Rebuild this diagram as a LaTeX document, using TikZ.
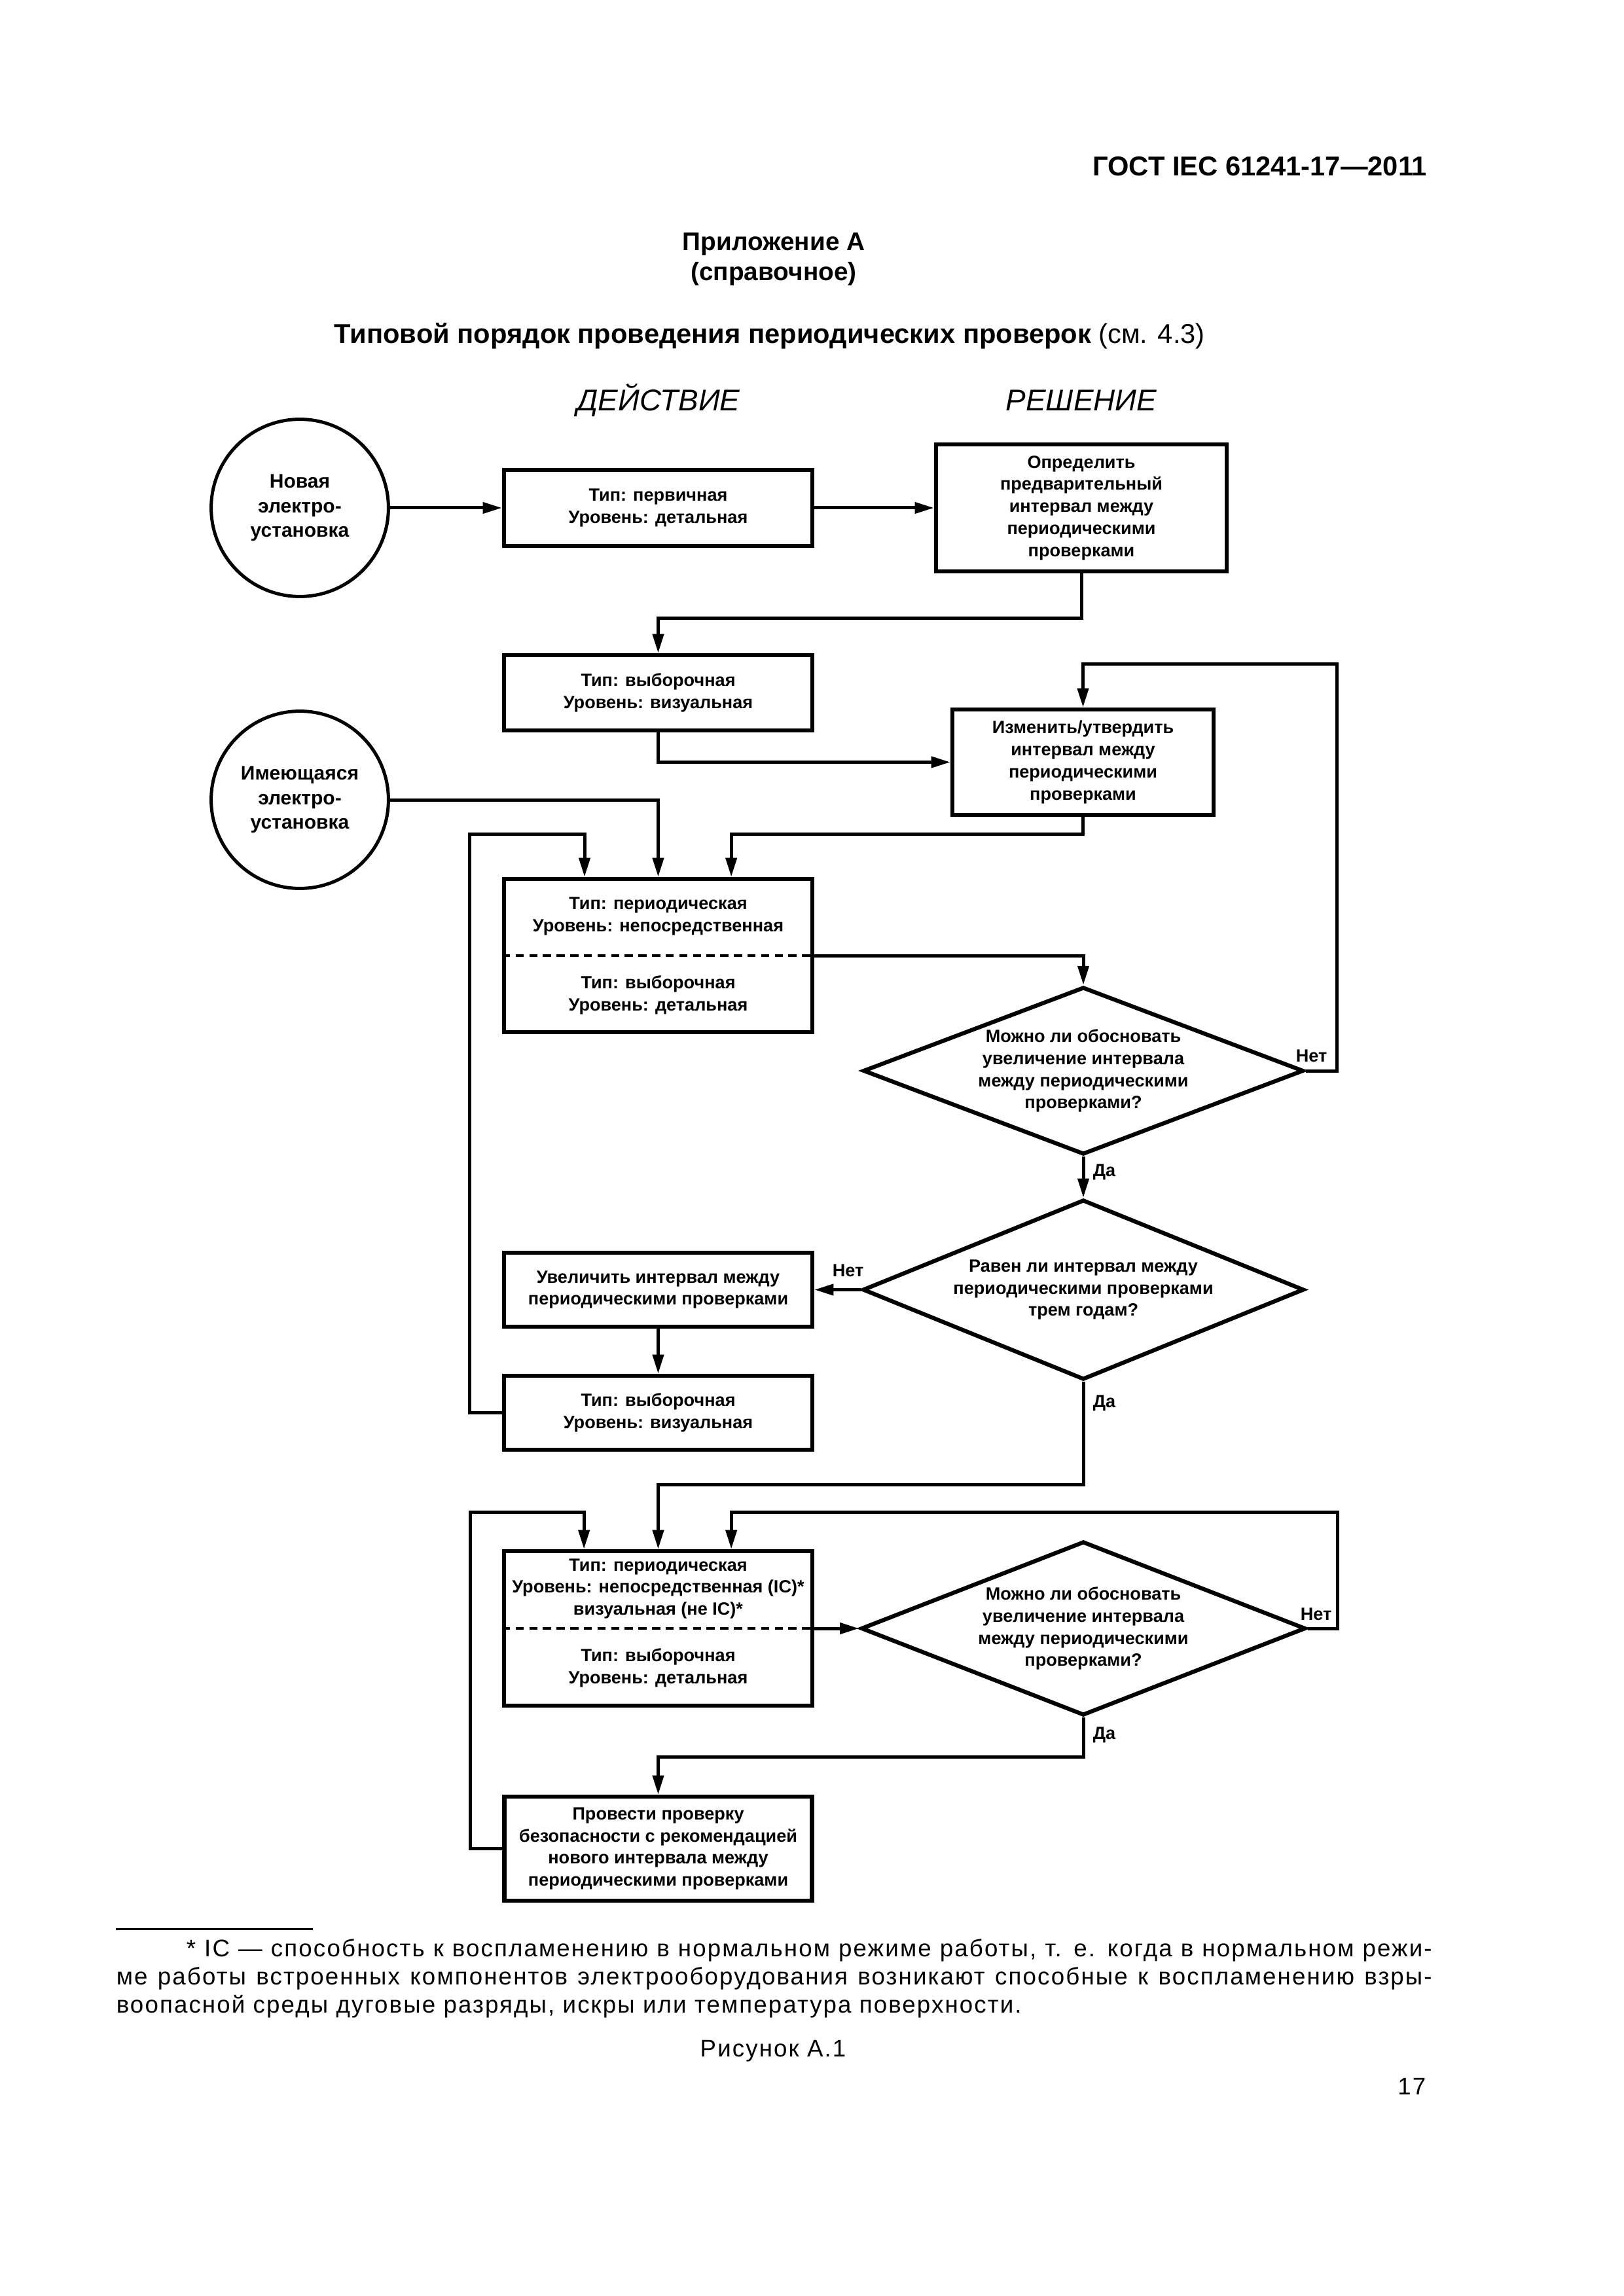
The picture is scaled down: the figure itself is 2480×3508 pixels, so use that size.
\documentclass[tikz,border=0pt]{standalone}
\usepackage{fontspec}
\setmainfont{Liberation Sans}
\newfontfamily\footfont[LetterSpace=5.8]{Liberation Sans}
\usetikzlibrary{arrows.meta,shapes.geometric,calc}
\newcommand\diagfont{\bfseries\fontsize{6.5}{8.1}\selectfont}
\newcommand\circfont{\bfseries\fontsize{7.2}{9}\selectfont}
\newcommand\notefont{\footfont\fontsize{8.8}{10.3}\selectfont}
\tikzset{
  box/.style={draw, line width=1.5pt, rectangle, inner sep=0pt, align=center, font=\diagfont},
  circ/.style={draw, line width=1.2pt, circle, minimum size=65pt, inner sep=0pt, align=center, font=\circfont},
  dia/.style={draw, line width=1.5pt, diamond, inner sep=0pt, align=center, font=\diagfont},
  conn/.style={line width=1.2pt, -{Triangle[length=7pt,width=4pt]}},
  lbl/.style={font=\diagfont, inner sep=0pt, anchor=base west},
  half/.style={inner sep=0pt, align=center, font=\diagfont},
  txt/.style={inner sep=0pt, anchor=base},
  divider/.style={line width=1pt, dash pattern=on 3pt off 2pt},
}
\begin{document}
\begin{tikzpicture}[x=0.24pt,y=-0.24pt]
\fill[white] (0,0) rectangle (2480,3508);
\useasboundingbox (0,0) rectangle (2480,3508);

% page texts
\node[txt, anchor=base east, font=\bfseries\fontsize{10}{12}\selectfont] (gost) at (2181,269) {ГОСТ IEC 61241-17—2011};
\node[txt, font=\bfseries\fontsize{9.3}{11}\selectfont] (app) at (1182,383) {Приложение А};
\node[txt, font=\bfseries\fontsize{9.3}{11}\selectfont] (ref) at (1182,429) {(справочное)};
\node[txt, anchor=base west, font=\fontsize{10}{12}\selectfont] (title) at (510,525) {\textbf{Типовой порядок проведения периодических проверок} (см. 4.3)};
\node[txt, font=\itshape\fontsize{11}{13}\selectfont] (hact) at (1006,628) {ДЕЙСТВИЕ};
\node[txt, font=\itshape\fontsize{11}{13}\selectfont] (hdec) at (1652,628) {РЕШЕНИЕ};

% nodes
\node[circ] (c1) at (458,776) {Новая\\электро-\\установка};
\node[box, minimum width=113.04pt, minimum height=27.84pt] (b1) at (1005.5,776) {Тип: первичная\\Уровень: детальная};
\node[box, minimum width=106.56pt, minimum height=46.56pt] (d0) at (1652,776) {Определить\\предварительный\\интервал между\\периодическими\\проверками};
\node[box, minimum width=113.04pt, minimum height=27.6pt] (b2) at (1005.5,1058.5) {Тип: выборочная\\Уровень: визуальная};
\node[box, minimum width=95.76pt, minimum height=38.64pt] (d1) at (1654.5,1164.5) {Изменить/утвердить\\интервал между\\периодическими\\проверками};
\node[circ] (c2) at (458,1222) {Имеющаяся\\электро-\\установка};

\node[box, minimum width=113.04pt, minimum height=56.16pt] (b3) at (1005.5,1460) {};
\draw[divider] (b3.west) -- (b3.east);
\node[half] (b3t) at ($(b3.north)!0.5!(b3.center)$) {Тип: периодическая\\Уровень: непосредственная};
\node[half] (b3b) at ($(b3.south)!0.5!(b3.center)$) {Тип: выборочная\\Уровень: детальная};

\node[dia, minimum width=161.5pt, minimum height=61.4pt, shape aspect=2.63] (q1) at (1655,1636) {Можно ли обосновать\\увеличение интервала\\между периодическими\\проверками?};
\node[dia, minimum width=161.8pt, minimum height=66pt, shape aspect=2.45] (q2) at (1655,1970.5) {Равен ли интервал между\\периодическими проверками\\трем годам?};
\node[box, minimum width=113.04pt, minimum height=27.12pt] (b4) at (1005.5,1970.5) {Увеличить интервал между\\периодическими проверками};
\node[box, minimum width=113.04pt, minimum height=27.12pt] (b5) at (1005.5,2158.5) {Тип: выборочная\\Уровень: визуальная};

\node[box, minimum width=113.04pt, minimum height=56.64pt] (b6) at (1005.5,2488) {};
\draw[divider] (b6.west) -- (b6.east);
\node[half] (b6t) at ($(b6.north)!0.5!(b6.center)$) {Тип: периодическая\\Уровень: непосредственная (IC)*\\визуальная (не IC)*};
\node[half] (b6b) at ($(b6.south)!0.5!(b6.center)$) {Тип: выборочная\\Уровень: детальная};
\node[dia, minimum width=163pt, minimum height=63.8pt, shape aspect=2.55] (q3) at (1655,2488) {Можно ли обосновать\\увеличение интервала\\между периодическими\\проверками?};
\node[box, minimum width=112.8pt, minimum height=38.16pt] (b7) at (1005.5,2824.5) {Провести проверку\\безопасности с рекомендацией\\нового интервала между\\периодическими проверками};

% connectors
\draw[conn] (c1.east) -- (b1.west);
\draw[conn] (b1.east) -- (d0.west);
\draw[conn] (d0.south) -- ++(0,68) -| (b2.north);
\draw[conn] (b2.south) |- (d1.west);
\draw[conn] (q1.east) -- ++(48,0) |- ([yshift=15.84pt]d1.north) -- (d1.north);
\draw[conn] (c2.east) -| (b3.north);
\draw[conn] (d1.south) |- ([xshift=26.8pt,yshift=15.6pt]b3.north) -- ([xshift=26.8pt]b3.north);
\draw[conn] (b5.west) -- ++(-49,0) |- ([xshift=-27pt,yshift=15.6pt]b3.north) -- ([xshift=-27pt]b3.north);
\draw[conn] (b3.east) -| (q1.north);
\draw[conn] (q1.south) -- (q2.north);
\draw[conn] (q2.west) -- (b4.east);
\draw[conn] (b4.south) -- (b5.north);
\draw[conn] (q2.south) -- ++(0,157) -| (b6.north);
\draw[conn] (b7.west) -- ++(-49,0) |- ([xshift=-27.2pt,yshift=13.44pt]b6.north) -- ([xshift=-27.2pt]b6.north);
\draw[conn] (q3.east) -- ++(46,0) |- ([xshift=26.8pt,yshift=13.44pt]b6.north) -- ([xshift=26.8pt]b6.north);
\draw[conn] (b6.east) -- (q3.west);
\draw[conn] (q3.south) -- ++(0,60) -| (b7.north);

% branch labels
\node[lbl] (n1) at (1979,1622) {Нет};
\node[lbl] (y1) at (1669,1797) {Да};
\node[lbl] (n2) at (1271,1950) {Нет};
\node[lbl] (y2) at (1669,2150) {Да};
\node[lbl] (n3) at (1986,2475) {Нет};
\node[lbl] (y3) at (1669,2657) {Да};

% footnote
\coordinate (fr1) at (177,2947);
\coordinate (fr2) at (478,2947);
\draw[line width=0.72pt] (fr1) -- (fr2);
\node[txt, anchor=base west, font=\notefont] (f1) at (284,2989) {\makebox[456.7pt][s]{* IC — способность к воспламенению в нормальном режиме работы, т. е. когда в нормальном режи-}};
\node[txt, anchor=base west, font=\notefont] (f2) at (177,3032) {\makebox[482.4pt][s]{ме работы встроенных компонентов электрооборудования возникают способные к воспламенению взры-}};
\node[txt, anchor=base west, font=\notefont] (f3) at (177,3075) {воопасной среды дуговые разряды, искры или температура поверхности.};
\node[txt, font=\notefont] (fig) at (1181,3142) {Рисунок А.1};
\node[txt, anchor=base east, font=\notefont] (pg) at (2179,3200) {17};
\end{tikzpicture}
\end{document}
